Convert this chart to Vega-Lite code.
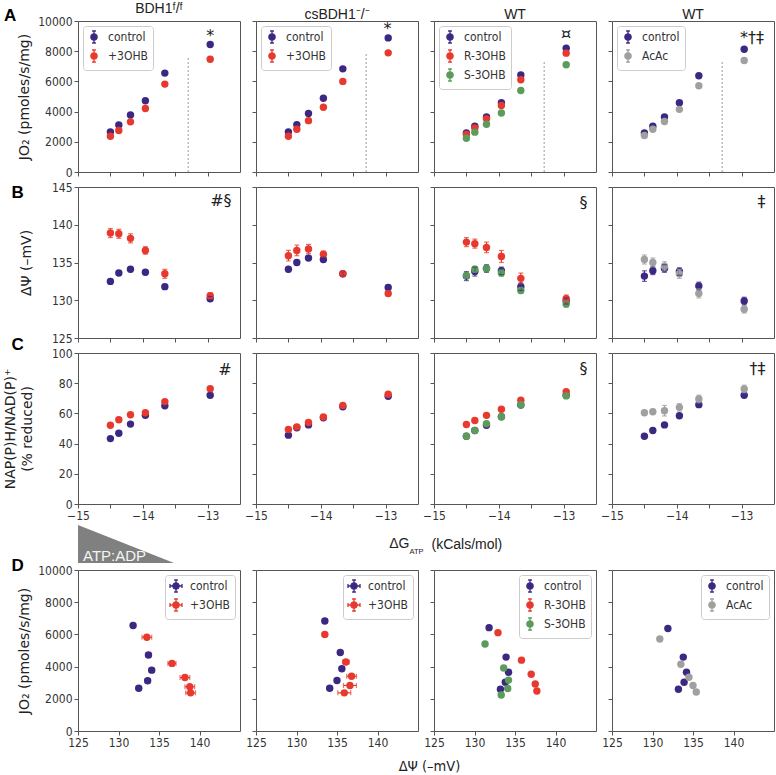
{
"$schema":"https://vega.github.io/schema/vega-lite/v6.json",
"background":"white",
"padding":{"left":2,"top":1,"right":0,"bottom":0},
"datasets":{
"pts":[
{"p":"A1","s":"control","x":-14.5,"y":2660},{"p":"A1","s":"control","x":-14.37,"y":3120},{"p":"A1","s":"control","x":-14.19,"y":3780},{"p":"A1","s":"control","x":-13.96,"y":4720},{"p":"A1","s":"control","x":-13.66,"y":6550},{"p":"A1","s":"control","x":-12.96,"y":8440},
{"p":"A1","s":"+3OHB","x":-14.5,"y":2370},{"p":"A1","s":"+3OHB","x":-14.37,"y":2750},{"p":"A1","s":"+3OHB","x":-14.19,"y":3320},{"p":"A1","s":"+3OHB","x":-13.96,"y":4200},{"p":"A1","s":"+3OHB","x":-13.66,"y":5820},{"p":"A1","s":"+3OHB","x":-12.96,"y":7470},
{"p":"A2","s":"control","x":-14.5,"y":2660},{"p":"A2","s":"control","x":-14.37,"y":3140},{"p":"A2","s":"control","x":-14.19,"y":3870},{"p":"A2","s":"control","x":-13.96,"y":4880},{"p":"A2","s":"control","x":-13.66,"y":6830},{"p":"A2","s":"control","x":-12.96,"y":8880},
{"p":"A2","s":"+3OHB","x":-14.5,"y":2370},{"p":"A2","s":"+3OHB","x":-14.37,"y":2830},{"p":"A2","s":"+3OHB","x":-14.19,"y":3400},{"p":"A2","s":"+3OHB","x":-13.96,"y":4290},{"p":"A2","s":"+3OHB","x":-13.66,"y":6000},{"p":"A2","s":"+3OHB","x":-12.96,"y":7890},
{"p":"A3","s":"control","x":-14.5,"y":2590},{"p":"A3","s":"control","x":-14.37,"y":3030},{"p":"A3","s":"control","x":-14.19,"y":3650},{"p":"A3","s":"control","x":-13.96,"y":4590},{"p":"A3","s":"control","x":-13.66,"y":6420},{"p":"A3","s":"control","x":-12.96,"y":8200},
{"p":"A3","s":"R-3OHB","x":-14.5,"y":2480},{"p":"A3","s":"R-3OHB","x":-14.37,"y":2920},{"p":"A3","s":"R-3OHB","x":-14.19,"y":3520},{"p":"A3","s":"R-3OHB","x":-13.96,"y":4400},{"p":"A3","s":"R-3OHB","x":-13.66,"y":6110},{"p":"A3","s":"R-3OHB","x":-12.96,"y":7870},
{"p":"A3","s":"S-3OHB","x":-14.5,"y":2240},{"p":"A3","s":"S-3OHB","x":-14.37,"y":2640},{"p":"A3","s":"S-3OHB","x":-14.19,"y":3160},{"p":"A3","s":"S-3OHB","x":-13.96,"y":3910},{"p":"A3","s":"S-3OHB","x":-13.66,"y":5400},{"p":"A3","s":"S-3OHB","x":-12.96,"y":7100},
{"p":"A4","s":"control","x":-14.5,"y":2590},{"p":"A4","s":"control","x":-14.37,"y":3030},{"p":"A4","s":"control","x":-14.19,"y":3650},{"p":"A4","s":"control","x":-13.96,"y":4590},{"p":"A4","s":"control","x":-13.66,"y":6370},{"p":"A4","s":"control","x":-12.96,"y":8130},
{"p":"A4","s":"AcAc","x":-14.5,"y":2420},{"p":"A4","s":"AcAc","x":-14.37,"y":2830},{"p":"A4","s":"AcAc","x":-14.19,"y":3340},{"p":"A4","s":"AcAc","x":-13.96,"y":4150},{"p":"A4","s":"AcAc","x":-13.66,"y":5710},{"p":"A4","s":"AcAc","x":-12.96,"y":7380},
{"p":"B1","s":"control","x":-14.5,"y":132.5},{"p":"B1","s":"control","x":-14.37,"y":133.6},{"p":"B1","s":"control","x":-14.19,"y":134.1},{"p":"B1","s":"control","x":-13.96,"y":133.7},{"p":"B1","s":"control","x":-13.66,"y":131.8},{"p":"B1","s":"control","x":-12.96,"y":130.2},
{"p":"B1","s":"+3OHB","x":-14.5,"y":138.9},{"p":"B1","s":"+3OHB","x":-14.37,"y":138.8},{"p":"B1","s":"+3OHB","x":-14.19,"y":138.2},{"p":"B1","s":"+3OHB","x":-13.96,"y":136.6},{"p":"B1","s":"+3OHB","x":-13.66,"y":133.5},{"p":"B1","s":"+3OHB","x":-12.96,"y":130.6},
{"p":"B2","s":"control","x":-14.5,"y":134.1},{"p":"B2","s":"control","x":-14.37,"y":135.0},{"p":"B2","s":"control","x":-14.19,"y":135.6},{"p":"B2","s":"control","x":-13.96,"y":135.4},{"p":"B2","s":"control","x":-13.66,"y":133.5},{"p":"B2","s":"control","x":-12.96,"y":131.7},
{"p":"B2","s":"+3OHB","x":-14.5,"y":135.9},{"p":"B2","s":"+3OHB","x":-14.37,"y":136.6},{"p":"B2","s":"+3OHB","x":-14.19,"y":136.8},{"p":"B2","s":"+3OHB","x":-13.96,"y":136.1},{"p":"B2","s":"+3OHB","x":-13.66,"y":133.5},{"p":"B2","s":"+3OHB","x":-12.96,"y":130.9},
{"p":"B3","s":"control","x":-14.5,"y":133.2},{"p":"B3","s":"control","x":-14.37,"y":133.8},{"p":"B3","s":"control","x":-14.19,"y":134.2},{"p":"B3","s":"control","x":-13.96,"y":133.9},{"p":"B3","s":"control","x":-13.66,"y":131.8},{"p":"B3","s":"control","x":-12.96,"y":129.9},
{"p":"B3","s":"R-3OHB","x":-14.5,"y":137.7},{"p":"B3","s":"R-3OHB","x":-14.37,"y":137.5},{"p":"B3","s":"R-3OHB","x":-14.19,"y":137.0},{"p":"B3","s":"R-3OHB","x":-13.96,"y":135.8},{"p":"B3","s":"R-3OHB","x":-13.66,"y":132.9},{"p":"B3","s":"R-3OHB","x":-12.96,"y":130.2},
{"p":"B3","s":"S-3OHB","x":-14.5,"y":133.3},{"p":"B3","s":"S-3OHB","x":-14.37,"y":134.1},{"p":"B3","s":"S-3OHB","x":-14.19,"y":134.2},{"p":"B3","s":"S-3OHB","x":-13.96,"y":133.6},{"p":"B3","s":"S-3OHB","x":-13.66,"y":131.3},{"p":"B3","s":"S-3OHB","x":-12.96,"y":129.5},
{"p":"B4","s":"control","x":-14.5,"y":133.2},{"p":"B4","s":"control","x":-14.37,"y":133.9},{"p":"B4","s":"control","x":-14.19,"y":134.2},{"p":"B4","s":"control","x":-13.96,"y":133.8},{"p":"B4","s":"control","x":-13.66,"y":131.9},{"p":"B4","s":"control","x":-12.96,"y":129.9},
{"p":"B4","s":"AcAc","x":-14.5,"y":135.4},{"p":"B4","s":"AcAc","x":-14.37,"y":135.0},{"p":"B4","s":"AcAc","x":-14.19,"y":134.5},{"p":"B4","s":"AcAc","x":-13.96,"y":133.5},{"p":"B4","s":"AcAc","x":-13.66,"y":130.9},{"p":"B4","s":"AcAc","x":-12.96,"y":128.8},
{"p":"C1","s":"control","x":-14.5,"y":43.3},{"p":"C1","s":"control","x":-14.37,"y":46.9},{"p":"C1","s":"control","x":-14.19,"y":52.9},{"p":"C1","s":"control","x":-13.96,"y":58.7},{"p":"C1","s":"control","x":-13.66,"y":65.1},{"p":"C1","s":"control","x":-12.96,"y":72.0},
{"p":"C1","s":"+3OHB","x":-14.5,"y":52.2},{"p":"C1","s":"+3OHB","x":-14.37,"y":55.8},{"p":"C1","s":"+3OHB","x":-14.19,"y":59.1},{"p":"C1","s":"+3OHB","x":-13.96,"y":60.4},{"p":"C1","s":"+3OHB","x":-13.66,"y":67.8},{"p":"C1","s":"+3OHB","x":-12.96,"y":76.4},
{"p":"C2","s":"control","x":-14.5,"y":45.6},{"p":"C2","s":"control","x":-14.37,"y":50.5},{"p":"C2","s":"control","x":-14.19,"y":52.4},{"p":"C2","s":"control","x":-13.96,"y":57.1},{"p":"C2","s":"control","x":-13.66,"y":64.4},{"p":"C2","s":"control","x":-12.96,"y":71.3},
{"p":"C2","s":"+3OHB","x":-14.5,"y":49.3},{"p":"C2","s":"+3OHB","x":-14.37,"y":51.1},{"p":"C2","s":"+3OHB","x":-14.19,"y":54.0},{"p":"C2","s":"+3OHB","x":-13.96,"y":57.6},{"p":"C2","s":"+3OHB","x":-13.66,"y":65.3},{"p":"C2","s":"+3OHB","x":-12.96,"y":72.7},
{"p":"C3","s":"control","x":-14.5,"y":44.9},{"p":"C3","s":"control","x":-14.37,"y":48.7},{"p":"C3","s":"control","x":-14.19,"y":52.2},{"p":"C3","s":"control","x":-13.96,"y":57.8},{"p":"C3","s":"control","x":-13.66,"y":65.6},{"p":"C3","s":"control","x":-12.96,"y":72.0},
{"p":"C3","s":"R-3OHB","x":-14.5,"y":52.7},{"p":"C3","s":"R-3OHB","x":-14.37,"y":55.3},{"p":"C3","s":"R-3OHB","x":-14.19,"y":58.7},{"p":"C3","s":"R-3OHB","x":-13.96,"y":62.7},{"p":"C3","s":"R-3OHB","x":-13.66,"y":68.7},{"p":"C3","s":"R-3OHB","x":-12.96,"y":74.4},
{"p":"C3","s":"S-3OHB","x":-14.5,"y":44.9},{"p":"C3","s":"S-3OHB","x":-14.37,"y":48.7},{"p":"C3","s":"S-3OHB","x":-14.19,"y":53.1},{"p":"C3","s":"S-3OHB","x":-13.96,"y":57.8},{"p":"C3","s":"S-3OHB","x":-13.66,"y":65.8},{"p":"C3","s":"S-3OHB","x":-12.96,"y":71.6},
{"p":"C4","s":"control","x":-14.5,"y":44.9},{"p":"C4","s":"control","x":-14.37,"y":48.7},{"p":"C4","s":"control","x":-14.19,"y":52.4},{"p":"C4","s":"control","x":-13.96,"y":58.4},{"p":"C4","s":"control","x":-13.66,"y":65.8},{"p":"C4","s":"control","x":-12.96,"y":72.0},
{"p":"C4","s":"AcAc","x":-14.5,"y":60.4},{"p":"C4","s":"AcAc","x":-14.37,"y":61.1},{"p":"C4","s":"AcAc","x":-14.19,"y":61.8},{"p":"C4","s":"AcAc","x":-13.96,"y":64.0},{"p":"C4","s":"AcAc","x":-13.66,"y":69.6},{"p":"C4","s":"AcAc","x":-12.96,"y":76.2},
{"p":"D1","s":"control","x":132.5,"y":2660},{"p":"D1","s":"control","x":133.6,"y":3120},{"p":"D1","s":"control","x":134.1,"y":3780},{"p":"D1","s":"control","x":133.7,"y":4720},{"p":"D1","s":"control","x":131.8,"y":6550},
{"p":"D1","s":"+3OHB","x":138.9,"y":2370},{"p":"D1","s":"+3OHB","x":138.8,"y":2750},{"p":"D1","s":"+3OHB","x":138.2,"y":3320},{"p":"D1","s":"+3OHB","x":136.6,"y":4200},{"p":"D1","s":"+3OHB","x":133.5,"y":5820},
{"p":"D2","s":"control","x":134.1,"y":2660},{"p":"D2","s":"control","x":135.0,"y":3140},{"p":"D2","s":"control","x":135.6,"y":3870},{"p":"D2","s":"control","x":135.4,"y":4880},{"p":"D2","s":"control","x":133.5,"y":6830},
{"p":"D2","s":"+3OHB","x":135.9,"y":2370},{"p":"D2","s":"+3OHB","x":136.6,"y":2830},{"p":"D2","s":"+3OHB","x":136.8,"y":3400},{"p":"D2","s":"+3OHB","x":136.1,"y":4290},{"p":"D2","s":"+3OHB","x":133.5,"y":6000},
{"p":"D3","s":"control","x":133.2,"y":2590},{"p":"D3","s":"control","x":133.8,"y":3030},{"p":"D3","s":"control","x":134.2,"y":3650},{"p":"D3","s":"control","x":133.9,"y":4590},{"p":"D3","s":"control","x":131.8,"y":6420},
{"p":"D3","s":"R-3OHB","x":137.7,"y":2480},{"p":"D3","s":"R-3OHB","x":137.5,"y":2920},{"p":"D3","s":"R-3OHB","x":137.0,"y":3520},{"p":"D3","s":"R-3OHB","x":135.8,"y":4400},{"p":"D3","s":"R-3OHB","x":132.9,"y":6110},
{"p":"D3","s":"S-3OHB","x":133.3,"y":2240},{"p":"D3","s":"S-3OHB","x":134.1,"y":2640},{"p":"D3","s":"S-3OHB","x":134.2,"y":3160},{"p":"D3","s":"S-3OHB","x":133.6,"y":3910},{"p":"D3","s":"S-3OHB","x":131.3,"y":5400},
{"p":"D4","s":"control","x":133.2,"y":2590},{"p":"D4","s":"control","x":133.9,"y":3030},{"p":"D4","s":"control","x":134.2,"y":3650},{"p":"D4","s":"control","x":133.8,"y":4590},{"p":"D4","s":"control","x":131.9,"y":6370},
{"p":"D4","s":"AcAc","x":135.4,"y":2420},{"p":"D4","s":"AcAc","x":135.0,"y":2830},{"p":"D4","s":"AcAc","x":134.5,"y":3340},{"p":"D4","s":"AcAc","x":133.5,"y":4150},{"p":"D4","s":"AcAc","x":130.9,"y":5710}
],
"eb":[
{"p":"A1","s":"+3OHB","x":-13.96,"lo":4100,"hi":4300},{"p":"A1","s":"+3OHB","x":-13.66,"lo":5730,"hi":5910},{"p":"A1","s":"+3OHB","x":-12.96,"lo":7270,"hi":7670},
{"p":"B1","s":"control","x":-14.5,"lo":132.2,"hi":132.8},{"p":"B1","s":"control","x":-14.37,"lo":133.3,"hi":133.9},{"p":"B1","s":"control","x":-14.19,"lo":133.8,"hi":134.4},{"p":"B1","s":"control","x":-13.96,"lo":133.4,"hi":134.0},{"p":"B1","s":"control","x":-13.66,"lo":131.5,"hi":132.1},{"p":"B1","s":"control","x":-12.96,"lo":129.9,"hi":130.5},
{"p":"B1","s":"+3OHB","x":-14.5,"lo":138.3,"hi":139.5},{"p":"B1","s":"+3OHB","x":-14.37,"lo":138.2,"hi":139.4},{"p":"B1","s":"+3OHB","x":-14.19,"lo":137.6,"hi":138.8},{"p":"B1","s":"+3OHB","x":-13.96,"lo":136.1,"hi":137.1},{"p":"B1","s":"+3OHB","x":-13.66,"lo":132.9,"hi":134.1},{"p":"B1","s":"+3OHB","x":-12.96,"lo":130.2,"hi":131.0},
{"p":"B2","s":"control","x":-14.5,"lo":133.8,"hi":134.4},{"p":"B2","s":"control","x":-14.37,"lo":134.7,"hi":135.3},{"p":"B2","s":"control","x":-14.19,"lo":135.3,"hi":135.9},{"p":"B2","s":"control","x":-13.96,"lo":135.1,"hi":135.7},{"p":"B2","s":"control","x":-13.66,"lo":133.2,"hi":133.8},{"p":"B2","s":"control","x":-12.96,"lo":131.4,"hi":132.0},
{"p":"B2","s":"+3OHB","x":-14.5,"lo":135.2,"hi":136.6},{"p":"B2","s":"+3OHB","x":-14.37,"lo":135.9,"hi":137.3},{"p":"B2","s":"+3OHB","x":-14.19,"lo":136.2,"hi":137.4},{"p":"B2","s":"+3OHB","x":-13.96,"lo":135.7,"hi":136.5},{"p":"B2","s":"+3OHB","x":-13.66,"lo":133.2,"hi":133.8},{"p":"B2","s":"+3OHB","x":-12.96,"lo":130.6,"hi":131.2},
{"p":"B3","s":"control","x":-14.5,"lo":132.6,"hi":133.8},{"p":"B3","s":"control","x":-14.37,"lo":133.2,"hi":134.4},{"p":"B3","s":"control","x":-14.19,"lo":133.7,"hi":134.7},{"p":"B3","s":"control","x":-13.96,"lo":133.4,"hi":134.4},{"p":"B3","s":"control","x":-13.66,"lo":131.3,"hi":132.3},{"p":"B3","s":"control","x":-12.96,"lo":129.5,"hi":130.3},
{"p":"B3","s":"R-3OHB","x":-14.5,"lo":137.1,"hi":138.3},{"p":"B3","s":"R-3OHB","x":-14.37,"lo":136.9,"hi":138.1},{"p":"B3","s":"R-3OHB","x":-14.19,"lo":136.3,"hi":137.7},{"p":"B3","s":"R-3OHB","x":-13.96,"lo":135.0,"hi":136.6},{"p":"B3","s":"R-3OHB","x":-13.66,"lo":132.2,"hi":133.6},{"p":"B3","s":"R-3OHB","x":-12.96,"lo":129.7,"hi":130.7},
{"p":"B3","s":"S-3OHB","x":-14.5,"lo":132.9,"hi":133.7},{"p":"B3","s":"S-3OHB","x":-14.37,"lo":133.7,"hi":134.5},{"p":"B3","s":"S-3OHB","x":-14.19,"lo":133.8,"hi":134.6},{"p":"B3","s":"S-3OHB","x":-13.96,"lo":133.2,"hi":134.0},{"p":"B3","s":"S-3OHB","x":-13.66,"lo":130.9,"hi":131.7},{"p":"B3","s":"S-3OHB","x":-12.96,"lo":129.1,"hi":129.9},
{"p":"B4","s":"control","x":-14.5,"lo":132.5,"hi":133.9},{"p":"B4","s":"control","x":-14.37,"lo":133.4,"hi":134.4},{"p":"B4","s":"control","x":-14.19,"lo":133.7,"hi":134.7},{"p":"B4","s":"control","x":-13.96,"lo":133.3,"hi":134.3},{"p":"B4","s":"control","x":-13.66,"lo":131.4,"hi":132.4},{"p":"B4","s":"control","x":-12.96,"lo":129.4,"hi":130.4},
{"p":"B4","s":"AcAc","x":-14.5,"lo":134.8,"hi":136.0},{"p":"B4","s":"AcAc","x":-14.37,"lo":134.4,"hi":135.6},{"p":"B4","s":"AcAc","x":-14.19,"lo":133.9,"hi":135.1},{"p":"B4","s":"AcAc","x":-13.96,"lo":132.9,"hi":134.1},{"p":"B4","s":"AcAc","x":-13.66,"lo":130.3,"hi":131.5},{"p":"B4","s":"AcAc","x":-12.96,"lo":128.3,"hi":129.3},
{"p":"C1","s":"+3OHB","x":-14.5,"lo":51.2,"hi":53.2},{"p":"C1","s":"+3OHB","x":-14.37,"lo":54.8,"hi":56.8},{"p":"C1","s":"+3OHB","x":-14.19,"lo":58.1,"hi":60.1},{"p":"C1","s":"+3OHB","x":-13.96,"lo":58.9,"hi":61.9},{"p":"C1","s":"+3OHB","x":-13.66,"lo":66.3,"hi":69.3},{"p":"C1","s":"+3OHB","x":-12.96,"lo":75.4,"hi":77.4},
{"p":"C4","s":"AcAc","x":-14.5,"lo":58.9,"hi":61.9},{"p":"C4","s":"AcAc","x":-14.37,"lo":59.6,"hi":62.6},{"p":"C4","s":"AcAc","x":-14.19,"lo":58.3,"hi":65.3},{"p":"C4","s":"AcAc","x":-13.96,"lo":61.5,"hi":66.5},{"p":"C4","s":"AcAc","x":-13.66,"lo":67.1,"hi":72.1},{"p":"C4","s":"AcAc","x":-12.96,"lo":73.7,"hi":78.7}
],
"ebh":[
{"p":"D1","s":"control","y":2660,"lo":132.2,"hi":132.8},{"p":"D1","s":"control","y":3120,"lo":133.3,"hi":133.9},{"p":"D1","s":"control","y":3780,"lo":133.8,"hi":134.4},{"p":"D1","s":"control","y":4720,"lo":133.4,"hi":134.0},{"p":"D1","s":"control","y":6550,"lo":131.5,"hi":132.1},
{"p":"D1","s":"+3OHB","y":2370,"lo":138.3,"hi":139.5},{"p":"D1","s":"+3OHB","y":2750,"lo":138.2,"hi":139.4},{"p":"D1","s":"+3OHB","y":3320,"lo":137.6,"hi":138.8},{"p":"D1","s":"+3OHB","y":4200,"lo":136.1,"hi":137.1},{"p":"D1","s":"+3OHB","y":5820,"lo":132.9,"hi":134.1},
{"p":"D2","s":"control","y":2660,"lo":133.8,"hi":134.4},{"p":"D2","s":"control","y":3140,"lo":134.7,"hi":135.3},{"p":"D2","s":"control","y":3870,"lo":135.3,"hi":135.9},{"p":"D2","s":"control","y":4880,"lo":135.1,"hi":135.7},{"p":"D2","s":"control","y":6830,"lo":133.2,"hi":133.8},
{"p":"D2","s":"+3OHB","y":2370,"lo":135.1,"hi":136.7},{"p":"D2","s":"+3OHB","y":2830,"lo":135.8,"hi":137.4},{"p":"D2","s":"+3OHB","y":3400,"lo":136.2,"hi":137.4},{"p":"D2","s":"+3OHB","y":4290,"lo":135.7,"hi":136.5},{"p":"D2","s":"+3OHB","y":6000,"lo":133.2,"hi":133.8}
],
"vl":[{"p":"A1","x":-13.3,"b":0,"top":7600},{"p":"A2","x":-13.3,"b":0,"top":7900},{"p":"A3","x":-13.3,"b":0,"top":7320},{"p":"A4","x":-13.3,"b":0,"top":7320}],
"sig":[{"p":"A1","x":-12.96,"y":8680,"t":"*"},{"p":"A2","x":-12.97,"y":9140,"t":"*"},{"p":"A3","x":-12.96,"y":8790,"t":"¤"},{"p":"A4","x":-12.84,"y":8550,"t":"*†‡"},
{"p":"B1","x":-12.63,"y":142.5,"t":"#§"},{"p":"B3","x":-12.63,"y":142.2,"t":"§"},{"p":"B4","x":-12.63,"y":142.35,"t":"‡"},
{"p":"C1","x":-12.63,"y":85.4,"t":"#"},{"p":"C3","x":-12.63,"y":86,"t":"§"},{"p":"C4","x":-12.63,"y":86,"t":"†‡"}],
"tri":[{"u":0,"v":0.833,"v0":-0.222},{"u":1,"v":-0.222,"v0":-0.222}],
"trilab":[{"u":0.052,"v":-0.167,"t":"ATP:ADP"}]
},
"config":{
"font":"DejaVu Sans",
"view":{"stroke":"#555","strokeWidth":1},
"axis":{"grid":false,"domain":false,"ticks":true,"tickColor":"#555","tickSize":4,"tickWidth":1,"labelFont":"DejaVu Sans Condensed","labelFontSize":12,"labelColor":"#333","labelPadding":2,"labelFlush":false,"labelOverlap":false,"titleFont":"DejaVu Sans","titleFontSize":14,"titleFontWeight":"normal","titleColor":"#222"},
"legend":{"fillColor":"white","strokeColor":"#ccc","cornerRadius":3,"padding":5,"labelFont":"DejaVu Sans Condensed","labelFontSize":12,"labelColor":"#333","symbolSize":40,"symbolStrokeWidth":1.3,"rowPadding":1,"labelOffset":8,"offset":5},
"title":{"font":"Liberation Sans","fontSize":14,"fontWeight":"normal","color":"#222","baseline":"alphabetic","offset":-1}
},
"resolve":{"scale":{"fill":"independent","stroke":"independent","color":"independent"},"legend":{"fill":"independent","stroke":"independent","color":"independent"}},
"bounds":"flush","columns":4,"spacing":{"row":15,"column":16},
"concat":[
{"width":162,"height":151,"title":{"text":"BDH1ᶠ/ᶠ"},"layer":[
{"data":{"name":"vl"},"transform":[{"filter":"datum.p==='A1'"}],"mark":{"type":"rule","strokeDash":[2,2],"color":"#9a9a9a","strokeWidth":1},"encoding":{"x":{"field":"x","type":"quantitative"},"y":{"field":"b","type":"quantitative"},"y2":{"field":"top"}}},
{"data":{"name":"pts"},"transform":[{"filter":"datum.p==='A1'"}],"mark":{"type":"circle","size":55,"opacity":1,"strokeWidth":0},"encoding":{
"x":{"field":"x","type":"quantitative","scale":{"domain":[-15,-12.5],"nice":false,"zero":false},"axis":{"values":[-15,-14.5,-14,-13.5,-13],"tickCount":20,"labels":false,"title":null}},
"y":{"field":"y","type":"quantitative","scale":{"domain":[0,10000],"nice":false},"axis":{"values":[0,2000,4000,6000,8000,10000],"tickCount":20,"format":"d","title":"JO₂ (pmoles/s/mg)","titleX":-54,"titleY":75.5,"titleAlign":"center","titleBaseline":"middle","titleAngle":-90}},
"fill":{"field":"s","type":"nominal","scale":{"domain":["control","+3OHB"],"range":["#3c2882","#e8392e"]},"legend":{"title":null,"orient":"top-left","symbolType":"M-1,0A1,1,0,1,0,1,0A1,1,0,1,0,-1,0ZM0,-1.9L0,1.9M-0.6,-1.9L0.6,-1.9M-0.6,1.9L0.6,1.9"}},
"stroke":{"field":"s","type":"nominal","scale":{"domain":["control","+3OHB"],"range":["#3c2882","#e8392e"]},"legend":{"title":null,"orient":"top-left","symbolType":"M-1,0A1,1,0,1,0,1,0A1,1,0,1,0,-1,0ZM0,-1.9L0,1.9M-0.6,-1.9L0.6,-1.9M-0.6,1.9L0.6,1.9"}}}},
{"data":{"name":"eb"},"transform":[{"filter":"datum.p==='A1'"}],"mark":{"type":"rule","strokeWidth":1.2},"encoding":{"x":{"field":"x","type":"quantitative"},"y":{"field":"lo","type":"quantitative"},"y2":{"field":"hi"},"color":{"field":"s","type":"nominal","scale":{"domain":["control","+3OHB"],"range":["#3c2882","#e8392e"]},"legend":null}}},
{"data":{"name":"sig"},"transform":[{"filter":"datum.p==='A1'"}],"mark":{"type":"text","font":"DejaVu Sans","fontSize":16,"align":"center","baseline":"alphabetic","color":"#222"},"encoding":{"x":{"field":"x","type":"quantitative"},"y":{"field":"y","type":"quantitative"},"text":{"field":"t"}}}
]},
{"width":162,"height":151,"title":{"text":"csBDH1⁻/⁻"},"layer":[
{"data":{"name":"vl"},"transform":[{"filter":"datum.p==='A2'"}],"mark":{"type":"rule","strokeDash":[2,2],"color":"#9a9a9a","strokeWidth":1},"encoding":{"x":{"field":"x","type":"quantitative"},"y":{"field":"b","type":"quantitative"},"y2":{"field":"top"}}},
{"data":{"name":"pts"},"transform":[{"filter":"datum.p==='A2'"}],"mark":{"type":"circle","size":55,"opacity":1,"strokeWidth":0},"encoding":{
"x":{"field":"x","type":"quantitative","scale":{"domain":[-15,-12.5],"nice":false,"zero":false},"axis":{"values":[-15,-14.5,-14,-13.5,-13],"tickCount":20,"labels":false,"title":null}},
"y":{"field":"y","type":"quantitative","scale":{"domain":[0,10000],"nice":false},"axis":{"values":[0,2000,4000,6000,8000,10000],"tickCount":20,"labels":false,"title":null}},
"fill":{"field":"s","type":"nominal","scale":{"domain":["control","+3OHB"],"range":["#3c2882","#e8392e"]},"legend":{"title":null,"orient":"top-left","symbolType":"M-1,0A1,1,0,1,0,1,0A1,1,0,1,0,-1,0ZM0,-1.9L0,1.9M-0.6,-1.9L0.6,-1.9M-0.6,1.9L0.6,1.9"}},
"stroke":{"field":"s","type":"nominal","scale":{"domain":["control","+3OHB"],"range":["#3c2882","#e8392e"]},"legend":{"title":null,"orient":"top-left","symbolType":"M-1,0A1,1,0,1,0,1,0A1,1,0,1,0,-1,0ZM0,-1.9L0,1.9M-0.6,-1.9L0.6,-1.9M-0.6,1.9L0.6,1.9"}}}},
{"data":{"name":"sig"},"transform":[{"filter":"datum.p==='A2'"}],"mark":{"type":"text","font":"DejaVu Sans","fontSize":16,"align":"center","baseline":"alphabetic","color":"#222"},"encoding":{"x":{"field":"x","type":"quantitative"},"y":{"field":"y","type":"quantitative"},"text":{"field":"t"}}}
]},
{"width":162,"height":151,"title":{"text":"WT"},"layer":[
{"data":{"name":"vl"},"transform":[{"filter":"datum.p==='A3'"}],"mark":{"type":"rule","strokeDash":[2,2],"color":"#9a9a9a","strokeWidth":1},"encoding":{"x":{"field":"x","type":"quantitative"},"y":{"field":"b","type":"quantitative"},"y2":{"field":"top"}}},
{"data":{"name":"pts"},"transform":[{"filter":"datum.p==='A3'"}],"mark":{"type":"circle","size":55,"opacity":1,"strokeWidth":0},"encoding":{
"x":{"field":"x","type":"quantitative","scale":{"domain":[-15,-12.5],"nice":false,"zero":false},"axis":{"values":[-15,-14.5,-14,-13.5,-13],"tickCount":20,"labels":false,"title":null}},
"y":{"field":"y","type":"quantitative","scale":{"domain":[0,10000],"nice":false},"axis":{"values":[0,2000,4000,6000,8000,10000],"tickCount":20,"labels":false,"title":null}},
"fill":{"field":"s","type":"nominal","scale":{"domain":["control","R-3OHB","S-3OHB"],"range":["#3c2882","#e8392e","#5b9b5b"]},"legend":{"title":null,"orient":"top-left","symbolType":"M-1,0A1,1,0,1,0,1,0A1,1,0,1,0,-1,0ZM0,-1.9L0,1.9M-0.6,-1.9L0.6,-1.9M-0.6,1.9L0.6,1.9"}},
"stroke":{"field":"s","type":"nominal","scale":{"domain":["control","R-3OHB","S-3OHB"],"range":["#3c2882","#e8392e","#5b9b5b"]},"legend":{"title":null,"orient":"top-left","symbolType":"M-1,0A1,1,0,1,0,1,0A1,1,0,1,0,-1,0ZM0,-1.9L0,1.9M-0.6,-1.9L0.6,-1.9M-0.6,1.9L0.6,1.9"}}}},
{"data":{"name":"sig"},"transform":[{"filter":"datum.p==='A3'"}],"mark":{"type":"text","font":"DejaVu Sans","fontSize":16,"align":"center","baseline":"alphabetic","color":"#222"},"encoding":{"x":{"field":"x","type":"quantitative"},"y":{"field":"y","type":"quantitative"},"text":{"field":"t"}}}
]},
{"width":162,"height":151,"title":{"text":"WT"},"layer":[
{"data":{"name":"vl"},"transform":[{"filter":"datum.p==='A4'"}],"mark":{"type":"rule","strokeDash":[2,2],"color":"#9a9a9a","strokeWidth":1},"encoding":{"x":{"field":"x","type":"quantitative"},"y":{"field":"b","type":"quantitative"},"y2":{"field":"top"}}},
{"data":{"name":"pts"},"transform":[{"filter":"datum.p==='A4'"}],"mark":{"type":"circle","size":55,"opacity":1,"strokeWidth":0},"encoding":{
"x":{"field":"x","type":"quantitative","scale":{"domain":[-15,-12.5],"nice":false,"zero":false},"axis":{"values":[-15,-14.5,-14,-13.5,-13],"tickCount":20,"labels":false,"title":null}},
"y":{"field":"y","type":"quantitative","scale":{"domain":[0,10000],"nice":false},"axis":{"values":[0,2000,4000,6000,8000,10000],"tickCount":20,"labels":false,"title":null}},
"fill":{"field":"s","type":"nominal","scale":{"domain":["control","AcAc"],"range":["#3c2882","#a0a0a0"]},"legend":{"title":null,"orient":"top-left","symbolType":"M-1,0A1,1,0,1,0,1,0A1,1,0,1,0,-1,0ZM0,-1.9L0,1.9M-0.6,-1.9L0.6,-1.9M-0.6,1.9L0.6,1.9"}},
"stroke":{"field":"s","type":"nominal","scale":{"domain":["control","AcAc"],"range":["#3c2882","#a0a0a0"]},"legend":{"title":null,"orient":"top-left","symbolType":"M-1,0A1,1,0,1,0,1,0A1,1,0,1,0,-1,0ZM0,-1.9L0,1.9M-0.6,-1.9L0.6,-1.9M-0.6,1.9L0.6,1.9"}}}},
{"data":{"name":"sig"},"transform":[{"filter":"datum.p==='A4'"}],"mark":{"type":"text","font":"DejaVu Sans","fontSize":16,"align":"center","baseline":"alphabetic","color":"#222"},"encoding":{"x":{"field":"x","type":"quantitative"},"y":{"field":"y","type":"quantitative"},"text":{"field":"t"}}}
]},
{"width":162,"height":151,"title":{"text":"A","anchor":"start","frame":"group","dx":-74,"dy":-156,"offset":0,"font":"Liberation Sans","fontWeight":"bold","fontSize":17,"color":"#000"},"layer":[
{"data":{"name":"pts"},"transform":[{"filter":"datum.p==='B1'"}],"mark":{"type":"circle","size":55,"opacity":1,"strokeWidth":0},"encoding":{
"x":{"field":"x","type":"quantitative","scale":{"domain":[-15,-12.5],"nice":false,"zero":false},"axis":{"values":[-15,-14.5,-14,-13.5,-13],"tickCount":20,"labels":false,"title":"B","titleX":-67,"titleY":-141,"titleFont":"Liberation Sans","titleFontWeight":"bold","titleFontSize":17,"titleColor":"#000","titleAngle":0,"titleAlign":"left","titleBaseline":"alphabetic"}},
"y":{"field":"y","type":"quantitative","scale":{"domain":[125,145],"nice":false,"zero":false},"axis":{"values":[125,130,135,140,145],"tickCount":20,"title":"ΔΨ (–mV)","titleX":-52,"titleY":75.5,"titleAlign":"center","titleBaseline":"middle","titleAngle":-90}},
"fill":{"field":"s","type":"nominal","scale":{"domain":["control","+3OHB"],"range":["#3c2882","#e8392e"]},"legend":null}}},
{"data":{"name":"eb"},"transform":[{"filter":"datum.p==='B1'"}],"mark":{"type":"rule","strokeWidth":1.2},"encoding":{"x":{"field":"x","type":"quantitative"},"y":{"field":"lo","type":"quantitative"},"y2":{"field":"hi"},"color":{"field":"s","type":"nominal","scale":{"domain":["control","+3OHB"],"range":["#3c2882","#e8392e"]},"legend":null}}},
{"data":{"name":"eb"},"transform":[{"filter":"datum.p==='B1'"}],"mark":{"type":"tick","orient":"horizontal","size":5,"thickness":1.2},"encoding":{"x":{"field":"x","type":"quantitative"},"y":{"field":"lo","type":"quantitative"},"color":{"field":"s","type":"nominal","scale":{"domain":["control","+3OHB"],"range":["#3c2882","#e8392e"]},"legend":null}}},
{"data":{"name":"eb"},"transform":[{"filter":"datum.p==='B1'"}],"mark":{"type":"tick","orient":"horizontal","size":5,"thickness":1.2},"encoding":{"x":{"field":"x","type":"quantitative"},"y":{"field":"hi","type":"quantitative"},"color":{"field":"s","type":"nominal","scale":{"domain":["control","+3OHB"],"range":["#3c2882","#e8392e"]},"legend":null}}},
{"data":{"name":"sig"},"transform":[{"filter":"datum.p==='B1'"}],"mark":{"type":"text","font":"DejaVu Sans","fontSize":16,"align":"right","baseline":"alphabetic","color":"#222"},"encoding":{"x":{"field":"x","type":"quantitative"},"y":{"field":"y","type":"quantitative"},"text":{"field":"t"}}}
]},
{"width":162,"height":151,"layer":[
{"data":{"name":"pts"},"transform":[{"filter":"datum.p==='B2'"}],"mark":{"type":"circle","size":55,"opacity":1,"strokeWidth":0},"encoding":{
"x":{"field":"x","type":"quantitative","scale":{"domain":[-15,-12.5],"nice":false,"zero":false},"axis":{"values":[-15,-14.5,-14,-13.5,-13],"tickCount":20,"labels":false,"title":null}},
"y":{"field":"y","type":"quantitative","scale":{"domain":[125,145],"nice":false,"zero":false},"axis":{"values":[125,130,135,140,145],"tickCount":20,"labels":false,"title":null}},
"fill":{"field":"s","type":"nominal","scale":{"domain":["control","+3OHB"],"range":["#3c2882","#e8392e"]},"legend":null}}},
{"data":{"name":"eb"},"transform":[{"filter":"datum.p==='B2'"}],"mark":{"type":"rule","strokeWidth":1.2},"encoding":{"x":{"field":"x","type":"quantitative"},"y":{"field":"lo","type":"quantitative"},"y2":{"field":"hi"},"color":{"field":"s","type":"nominal","scale":{"domain":["control","+3OHB"],"range":["#3c2882","#e8392e"]},"legend":null}}},
{"data":{"name":"eb"},"transform":[{"filter":"datum.p==='B2'"}],"mark":{"type":"tick","orient":"horizontal","size":5,"thickness":1.2},"encoding":{"x":{"field":"x","type":"quantitative"},"y":{"field":"lo","type":"quantitative"},"color":{"field":"s","type":"nominal","scale":{"domain":["control","+3OHB"],"range":["#3c2882","#e8392e"]},"legend":null}}},
{"data":{"name":"eb"},"transform":[{"filter":"datum.p==='B2'"}],"mark":{"type":"tick","orient":"horizontal","size":5,"thickness":1.2},"encoding":{"x":{"field":"x","type":"quantitative"},"y":{"field":"hi","type":"quantitative"},"color":{"field":"s","type":"nominal","scale":{"domain":["control","+3OHB"],"range":["#3c2882","#e8392e"]},"legend":null}}}
]},
{"width":162,"height":151,"layer":[
{"data":{"name":"pts"},"transform":[{"filter":"datum.p==='B3'"}],"mark":{"type":"circle","size":55,"opacity":1,"strokeWidth":0},"encoding":{
"x":{"field":"x","type":"quantitative","scale":{"domain":[-15,-12.5],"nice":false,"zero":false},"axis":{"values":[-15,-14.5,-14,-13.5,-13],"tickCount":20,"labels":false,"title":null}},
"y":{"field":"y","type":"quantitative","scale":{"domain":[125,145],"nice":false,"zero":false},"axis":{"values":[125,130,135,140,145],"tickCount":20,"labels":false,"title":null}},
"fill":{"field":"s","type":"nominal","scale":{"domain":["control","R-3OHB","S-3OHB"],"range":["#3c2882","#e8392e","#5b9b5b"]},"legend":null}}},
{"data":{"name":"eb"},"transform":[{"filter":"datum.p==='B3'"}],"mark":{"type":"rule","strokeWidth":1.2},"encoding":{"x":{"field":"x","type":"quantitative"},"y":{"field":"lo","type":"quantitative"},"y2":{"field":"hi"},"color":{"field":"s","type":"nominal","scale":{"domain":["control","R-3OHB","S-3OHB"],"range":["#3c2882","#e8392e","#5b9b5b"]},"legend":null}}},
{"data":{"name":"eb"},"transform":[{"filter":"datum.p==='B3'"}],"mark":{"type":"tick","orient":"horizontal","size":5,"thickness":1.2},"encoding":{"x":{"field":"x","type":"quantitative"},"y":{"field":"lo","type":"quantitative"},"color":{"field":"s","type":"nominal","scale":{"domain":["control","R-3OHB","S-3OHB"],"range":["#3c2882","#e8392e","#5b9b5b"]},"legend":null}}},
{"data":{"name":"eb"},"transform":[{"filter":"datum.p==='B3'"}],"mark":{"type":"tick","orient":"horizontal","size":5,"thickness":1.2},"encoding":{"x":{"field":"x","type":"quantitative"},"y":{"field":"hi","type":"quantitative"},"color":{"field":"s","type":"nominal","scale":{"domain":["control","R-3OHB","S-3OHB"],"range":["#3c2882","#e8392e","#5b9b5b"]},"legend":null}}},
{"data":{"name":"sig"},"transform":[{"filter":"datum.p==='B3'"}],"mark":{"type":"text","font":"DejaVu Sans","fontSize":16,"align":"right","baseline":"alphabetic","color":"#222"},"encoding":{"x":{"field":"x","type":"quantitative"},"y":{"field":"y","type":"quantitative"},"text":{"field":"t"}}}
]},
{"width":162,"height":151,"layer":[
{"data":{"name":"pts"},"transform":[{"filter":"datum.p==='B4'"}],"mark":{"type":"circle","size":55,"opacity":1,"strokeWidth":0},"encoding":{
"x":{"field":"x","type":"quantitative","scale":{"domain":[-15,-12.5],"nice":false,"zero":false},"axis":{"values":[-15,-14.5,-14,-13.5,-13],"tickCount":20,"labels":false,"title":null}},
"y":{"field":"y","type":"quantitative","scale":{"domain":[125,145],"nice":false,"zero":false},"axis":{"values":[125,130,135,140,145],"tickCount":20,"labels":false,"title":null}},
"fill":{"field":"s","type":"nominal","scale":{"domain":["control","AcAc"],"range":["#3c2882","#a0a0a0"]},"legend":null}}},
{"data":{"name":"eb"},"transform":[{"filter":"datum.p==='B4'"}],"mark":{"type":"rule","strokeWidth":1.2},"encoding":{"x":{"field":"x","type":"quantitative"},"y":{"field":"lo","type":"quantitative"},"y2":{"field":"hi"},"color":{"field":"s","type":"nominal","scale":{"domain":["control","AcAc"],"range":["#3c2882","#a0a0a0"]},"legend":null}}},
{"data":{"name":"eb"},"transform":[{"filter":"datum.p==='B4'"}],"mark":{"type":"tick","orient":"horizontal","size":5,"thickness":1.2},"encoding":{"x":{"field":"x","type":"quantitative"},"y":{"field":"lo","type":"quantitative"},"color":{"field":"s","type":"nominal","scale":{"domain":["control","AcAc"],"range":["#3c2882","#a0a0a0"]},"legend":null}}},
{"data":{"name":"eb"},"transform":[{"filter":"datum.p==='B4'"}],"mark":{"type":"tick","orient":"horizontal","size":5,"thickness":1.2},"encoding":{"x":{"field":"x","type":"quantitative"},"y":{"field":"hi","type":"quantitative"},"color":{"field":"s","type":"nominal","scale":{"domain":["control","AcAc"],"range":["#3c2882","#a0a0a0"]},"legend":null}}},
{"data":{"name":"sig"},"transform":[{"filter":"datum.p==='B4'"}],"mark":{"type":"text","font":"DejaVu Sans","fontSize":16,"align":"right","baseline":"alphabetic","color":"#222"},"encoding":{"x":{"field":"x","type":"quantitative"},"y":{"field":"y","type":"quantitative"},"text":{"field":"t"}}}
]},
{"width":162,"height":151,"layer":[
{"data":{"name":"pts"},"transform":[{"filter":"datum.p==='C1'"}],"mark":{"type":"circle","size":55,"opacity":1,"strokeWidth":0},"encoding":{
"x":{"field":"x","type":"quantitative","scale":{"domain":[-15,-12.5],"nice":false,"zero":false},"axis":{"values":[-15,-14.5,-14,-13.5,-13],"tickCount":20,"labelExpr":"datum.value % 1 === 0 ? format(datum.value, 'd') : ''","title":"C","titleX":-67,"titleY":-155,"titleFont":"Liberation Sans","titleFontWeight":"bold","titleFontSize":17,"titleColor":"#000","titleAngle":0,"titleAlign":"left","titleBaseline":"alphabetic"}},
"y":{"field":"y","type":"quantitative","scale":{"domain":[0,100],"nice":false},"axis":{"values":[0,20,40,60,80,100],"tickCount":20,"title":["NAP(P)H/NAD(P)⁺","(% reduced)"],"titleX":-75,"titleY":75.5,"titleAlign":"center","titleBaseline":"top","titleAngle":-90,"titleLineHeight":17}},
"fill":{"field":"s","type":"nominal","scale":{"domain":["control","+3OHB"],"range":["#3c2882","#e8392e"]},"legend":null}}},
{"data":{"name":"eb"},"transform":[{"filter":"datum.p==='C1'"}],"mark":{"type":"rule","strokeWidth":1.2},"encoding":{"x":{"field":"x","type":"quantitative"},"y":{"field":"lo","type":"quantitative"},"y2":{"field":"hi"},"color":{"field":"s","type":"nominal","scale":{"domain":["control","+3OHB"],"range":["#3c2882","#e8392e"]},"legend":null}}},
{"data":{"name":"sig"},"transform":[{"filter":"datum.p==='C1'"}],"mark":{"type":"text","font":"DejaVu Sans","fontSize":16,"align":"right","baseline":"alphabetic","color":"#222"},"encoding":{"x":{"field":"x","type":"quantitative"},"y":{"field":"y","type":"quantitative"},"text":{"field":"t"}}}
]},
{"width":162,"height":151,"layer":[
{"data":{"name":"pts"},"transform":[{"filter":"datum.p==='C2'"}],"mark":{"type":"circle","size":55,"opacity":1,"strokeWidth":0},"encoding":{
"x":{"field":"x","type":"quantitative","scale":{"domain":[-15,-12.5],"nice":false,"zero":false},"axis":{"values":[-15,-14.5,-14,-13.5,-13],"tickCount":20,"labelExpr":"datum.value % 1 === 0 ? format(datum.value, 'd') : ''","title":"ΔG","titleX":142.8,"titleY":39,"titleAlign":"center","titleBaseline":"middle","titleAngle":0,"titleFont":"Liberation Sans","titleFontSize":14}},
"y":{"field":"y","type":"quantitative","scale":{"domain":[0,100],"nice":false},"axis":{"values":[0,20,40,60,80,100],"tickCount":20,"labels":false,"title":"ATP","titleAngle":0,"titleX":153,"titleY":198,"titleAlign":"left","titleBaseline":"middle","titleFont":"Liberation Sans","titleFontSize":7.5}},
"fill":{"field":"s","type":"nominal","scale":{"domain":["control","+3OHB"],"range":["#3c2882","#e8392e"]},"legend":null}}}
]},
{"width":162,"height":151,"layer":[
{"data":{"name":"pts"},"transform":[{"filter":"datum.p==='C3'"}],"mark":{"type":"circle","size":55,"opacity":1,"strokeWidth":0},"encoding":{
"x":{"field":"x","type":"quantitative","scale":{"domain":[-15,-12.5],"nice":false,"zero":false},"axis":{"values":[-15,-14.5,-14,-13.5,-13],"tickCount":20,"labelExpr":"datum.value % 1 === 0 ? format(datum.value, 'd') : ''","title":"(kCals/mol)","titleX":-3,"titleY":40,"titleAlign":"left","titleBaseline":"middle","titleAngle":0,"titleFont":"Liberation Sans","titleFontSize":14}},
"y":{"field":"y","type":"quantitative","scale":{"domain":[0,100],"nice":false},"axis":{"values":[0,20,40,60,80,100],"tickCount":20,"labels":false,"title":null}},
"fill":{"field":"s","type":"nominal","scale":{"domain":["control","R-3OHB","S-3OHB"],"range":["#3c2882","#e8392e","#5b9b5b"]},"legend":null}}},
{"data":{"name":"sig"},"transform":[{"filter":"datum.p==='C3'"}],"mark":{"type":"text","font":"DejaVu Sans","fontSize":16,"align":"right","baseline":"alphabetic","color":"#222"},"encoding":{"x":{"field":"x","type":"quantitative"},"y":{"field":"y","type":"quantitative"},"text":{"field":"t"}}}
]},
{"width":162,"height":151,"layer":[
{"data":{"name":"pts"},"transform":[{"filter":"datum.p==='C4'"}],"mark":{"type":"circle","size":55,"opacity":1,"strokeWidth":0},"encoding":{
"x":{"field":"x","type":"quantitative","scale":{"domain":[-15,-12.5],"nice":false,"zero":false},"axis":{"values":[-15,-14.5,-14,-13.5,-13],"tickCount":20,"labelExpr":"datum.value % 1 === 0 ? format(datum.value, 'd') : ''","title":null}},
"y":{"field":"y","type":"quantitative","scale":{"domain":[0,100],"nice":false},"axis":{"values":[0,20,40,60,80,100],"tickCount":20,"labels":false,"title":null}},
"fill":{"field":"s","type":"nominal","scale":{"domain":["control","AcAc"],"range":["#3c2882","#a0a0a0"]},"legend":null}}},
{"data":{"name":"eb"},"transform":[{"filter":"datum.p==='C4'"}],"mark":{"type":"rule","strokeWidth":1.2},"encoding":{"x":{"field":"x","type":"quantitative"},"y":{"field":"lo","type":"quantitative"},"y2":{"field":"hi"},"color":{"field":"s","type":"nominal","scale":{"domain":["control","AcAc"],"range":["#3c2882","#a0a0a0"]},"legend":null}}},
{"data":{"name":"eb"},"transform":[{"filter":"datum.p==='C4'"}],"mark":{"type":"tick","orient":"horizontal","size":5,"thickness":1.2},"encoding":{"x":{"field":"x","type":"quantitative"},"y":{"field":"lo","type":"quantitative"},"color":{"field":"s","type":"nominal","scale":{"domain":["control","AcAc"],"range":["#3c2882","#a0a0a0"]},"legend":null}}},
{"data":{"name":"eb"},"transform":[{"filter":"datum.p==='C4'"}],"mark":{"type":"tick","orient":"horizontal","size":5,"thickness":1.2},"encoding":{"x":{"field":"x","type":"quantitative"},"y":{"field":"hi","type":"quantitative"},"color":{"field":"s","type":"nominal","scale":{"domain":["control","AcAc"],"range":["#3c2882","#a0a0a0"]},"legend":null}}},
{"data":{"name":"sig"},"transform":[{"filter":"datum.p==='C4'"}],"mark":{"type":"text","font":"DejaVu Sans","fontSize":16,"align":"right","baseline":"alphabetic","color":"#222"},"encoding":{"x":{"field":"x","type":"quantitative"},"y":{"field":"y","type":"quantitative"},"text":{"field":"t"}}}
]},
{"width":96,"height":36,"view":{"stroke":null},"layer":[
{"data":{"name":"tri"},"mark":{"type":"area","color":"#808080","opacity":1},"encoding":{"x":{"field":"u","type":"quantitative","scale":{"domain":[0,1],"nice":false},"axis":null},"y":{"field":"v","type":"quantitative","scale":{"domain":[0,1],"nice":false,"zero":false},"axis":null},"y2":{"field":"v0"}}},
{"data":{"name":"trilab"},"mark":{"type":"text","font":"Liberation Sans","fontSize":15,"align":"left","baseline":"alphabetic","color":"#f4f4f4"},"encoding":{"x":{"field":"u","type":"quantitative"},"y":{"field":"v","type":"quantitative"},"text":{"field":"t"}}}
]},
{"width":162,"height":36,"view":{"stroke":null},"data":{"values":[]},"mark":{"type":"point","opacity":0},"encoding":{}},
{"width":162,"height":36,"view":{"stroke":null},"data":{"values":[]},"mark":{"type":"point","opacity":0},"encoding":{}},
{"width":162,"height":36,"view":{"stroke":null},"data":{"values":[]},"mark":{"type":"point","opacity":0},"encoding":{}},
{"width":162,"height":161,"layer":[
{"data":{"name":"pts"},"transform":[{"filter":"datum.p==='D1'"}],"mark":{"type":"circle","size":55,"opacity":1,"strokeWidth":0},"encoding":{
"x":{"field":"x","type":"quantitative","scale":{"domain":[125,145],"nice":false,"zero":false},"axis":{"values":[125,130,135,140],"tickCount":20,"title":"D","titleX":-67,"titleY":-161,"titleFont":"Liberation Sans","titleFontWeight":"bold","titleFontSize":17,"titleColor":"#000","titleAngle":0,"titleAlign":"left","titleBaseline":"alphabetic"}},
"y":{"field":"y","type":"quantitative","scale":{"domain":[0,10000],"nice":false},"axis":{"values":[0,2000,4000,6000,8000,10000],"tickCount":20,"format":"d","title":"JO₂ (pmoles/s/mg)","titleX":-54,"titleY":80.5,"titleAlign":"center","titleBaseline":"middle","titleAngle":-90}},
"fill":{"field":"s","type":"nominal","scale":{"domain":["control","+3OHB"],"range":["#3c2882","#e8392e"]},"legend":{"title":null,"orient":"top-right","symbolType":"M-1,0A1,1,0,1,0,1,0A1,1,0,1,0,-1,0ZM0,-1.9L0,1.9M-0.6,-1.9L0.6,-1.9M-0.6,1.9L0.6,1.9M-1.9,0L1.9,0M-1.9,-0.6L-1.9,0.6M1.9,-0.6L1.9,0.6"}},
"stroke":{"field":"s","type":"nominal","scale":{"domain":["control","+3OHB"],"range":["#3c2882","#e8392e"]},"legend":{"title":null,"orient":"top-right","symbolType":"M-1,0A1,1,0,1,0,1,0A1,1,0,1,0,-1,0ZM0,-1.9L0,1.9M-0.6,-1.9L0.6,-1.9M-0.6,1.9L0.6,1.9M-1.9,0L1.9,0M-1.9,-0.6L-1.9,0.6M1.9,-0.6L1.9,0.6"}}}},
{"data":{"name":"ebh"},"transform":[{"filter":"datum.p==='D1'"}],"mark":{"type":"rule","strokeWidth":1.2},"encoding":{"y":{"field":"y","type":"quantitative"},"x":{"field":"lo","type":"quantitative"},"x2":{"field":"hi"},"color":{"field":"s","type":"nominal","scale":{"domain":["control","+3OHB"],"range":["#3c2882","#e8392e"]},"legend":null}}},
{"data":{"name":"ebh"},"transform":[{"filter":"datum.p==='D1'"}],"mark":{"type":"tick","orient":"vertical","size":5,"thickness":1.2},"encoding":{"y":{"field":"y","type":"quantitative"},"x":{"field":"lo","type":"quantitative"},"color":{"field":"s","type":"nominal","scale":{"domain":["control","+3OHB"],"range":["#3c2882","#e8392e"]},"legend":null}}},
{"data":{"name":"ebh"},"transform":[{"filter":"datum.p==='D1'"}],"mark":{"type":"tick","orient":"vertical","size":5,"thickness":1.2},"encoding":{"y":{"field":"y","type":"quantitative"},"x":{"field":"hi","type":"quantitative"},"color":{"field":"s","type":"nominal","scale":{"domain":["control","+3OHB"],"range":["#3c2882","#e8392e"]},"legend":null}}}
]},
{"width":162,"height":161,"layer":[
{"data":{"name":"pts"},"transform":[{"filter":"datum.p==='D2'"}],"mark":{"type":"circle","size":55,"opacity":1,"strokeWidth":0},"encoding":{
"x":{"field":"x","type":"quantitative","scale":{"domain":[125,145],"nice":false,"zero":false},"axis":{"values":[125,130,135,140],"tickCount":20,"title":null}},
"y":{"field":"y","type":"quantitative","scale":{"domain":[0,10000],"nice":false},"axis":{"values":[0,2000,4000,6000,8000,10000],"tickCount":20,"labels":false,"title":null}},
"fill":{"field":"s","type":"nominal","scale":{"domain":["control","+3OHB"],"range":["#3c2882","#e8392e"]},"legend":{"title":null,"orient":"top-right","symbolType":"M-1,0A1,1,0,1,0,1,0A1,1,0,1,0,-1,0ZM0,-1.9L0,1.9M-0.6,-1.9L0.6,-1.9M-0.6,1.9L0.6,1.9M-1.9,0L1.9,0M-1.9,-0.6L-1.9,0.6M1.9,-0.6L1.9,0.6"}},
"stroke":{"field":"s","type":"nominal","scale":{"domain":["control","+3OHB"],"range":["#3c2882","#e8392e"]},"legend":{"title":null,"orient":"top-right","symbolType":"M-1,0A1,1,0,1,0,1,0A1,1,0,1,0,-1,0ZM0,-1.9L0,1.9M-0.6,-1.9L0.6,-1.9M-0.6,1.9L0.6,1.9M-1.9,0L1.9,0M-1.9,-0.6L-1.9,0.6M1.9,-0.6L1.9,0.6"}}}},
{"data":{"name":"ebh"},"transform":[{"filter":"datum.p==='D2'"}],"mark":{"type":"rule","strokeWidth":1.2},"encoding":{"y":{"field":"y","type":"quantitative"},"x":{"field":"lo","type":"quantitative"},"x2":{"field":"hi"},"color":{"field":"s","type":"nominal","scale":{"domain":["control","+3OHB"],"range":["#3c2882","#e8392e"]},"legend":null}}},
{"data":{"name":"ebh"},"transform":[{"filter":"datum.p==='D2'"}],"mark":{"type":"tick","orient":"vertical","size":5,"thickness":1.2},"encoding":{"y":{"field":"y","type":"quantitative"},"x":{"field":"lo","type":"quantitative"},"color":{"field":"s","type":"nominal","scale":{"domain":["control","+3OHB"],"range":["#3c2882","#e8392e"]},"legend":null}}},
{"data":{"name":"ebh"},"transform":[{"filter":"datum.p==='D2'"}],"mark":{"type":"tick","orient":"vertical","size":5,"thickness":1.2},"encoding":{"y":{"field":"y","type":"quantitative"},"x":{"field":"hi","type":"quantitative"},"color":{"field":"s","type":"nominal","scale":{"domain":["control","+3OHB"],"range":["#3c2882","#e8392e"]},"legend":null}}}
]},
{"width":162,"height":161,"layer":[
{"data":{"name":"pts"},"transform":[{"filter":"datum.p==='D3'"}],"mark":{"type":"circle","size":55,"opacity":1,"strokeWidth":0},"encoding":{
"x":{"field":"x","type":"quantitative","scale":{"domain":[125,145],"nice":false,"zero":false},"axis":{"values":[125,130,135,140],"tickCount":20,"title":"ΔΨ (–mV)","titleX":-5,"titleY":35,"titleAlign":"center","titleBaseline":"middle","titleAngle":0,"titleFont":"DejaVu Sans Condensed","titleFontSize":14.5}},
"y":{"field":"y","type":"quantitative","scale":{"domain":[0,10000],"nice":false},"axis":{"values":[0,2000,4000,6000,8000,10000],"tickCount":20,"labels":false,"title":null}},
"fill":{"field":"s","type":"nominal","scale":{"domain":["control","R-3OHB","S-3OHB"],"range":["#3c2882","#e8392e","#5b9b5b"]},"legend":{"title":null,"orient":"top-right","symbolType":"M-1,0A1,1,0,1,0,1,0A1,1,0,1,0,-1,0ZM0,-1.9L0,1.9M-0.6,-1.9L0.6,-1.9M-0.6,1.9L0.6,1.9"}},
"stroke":{"field":"s","type":"nominal","scale":{"domain":["control","R-3OHB","S-3OHB"],"range":["#3c2882","#e8392e","#5b9b5b"]},"legend":{"title":null,"orient":"top-right","symbolType":"M-1,0A1,1,0,1,0,1,0A1,1,0,1,0,-1,0ZM0,-1.9L0,1.9M-0.6,-1.9L0.6,-1.9M-0.6,1.9L0.6,1.9"}}}}
]},
{"width":162,"height":161,"layer":[
{"data":{"name":"pts"},"transform":[{"filter":"datum.p==='D4'"}],"mark":{"type":"circle","size":55,"opacity":1,"strokeWidth":0},"encoding":{
"x":{"field":"x","type":"quantitative","scale":{"domain":[125,145],"nice":false,"zero":false},"axis":{"values":[125,130,135,140],"tickCount":20,"title":null}},
"y":{"field":"y","type":"quantitative","scale":{"domain":[0,10000],"nice":false},"axis":{"values":[0,2000,4000,6000,8000,10000],"tickCount":20,"labels":false,"title":null}},
"fill":{"field":"s","type":"nominal","scale":{"domain":["control","AcAc"],"range":["#3c2882","#a0a0a0"]},"legend":{"title":null,"orient":"top-right","symbolType":"M-1,0A1,1,0,1,0,1,0A1,1,0,1,0,-1,0ZM0,-1.9L0,1.9M-0.6,-1.9L0.6,-1.9M-0.6,1.9L0.6,1.9"}},
"stroke":{"field":"s","type":"nominal","scale":{"domain":["control","AcAc"],"range":["#3c2882","#a0a0a0"]},"legend":{"title":null,"orient":"top-right","symbolType":"M-1,0A1,1,0,1,0,1,0A1,1,0,1,0,-1,0ZM0,-1.9L0,1.9M-0.6,-1.9L0.6,-1.9M-0.6,1.9L0.6,1.9"}}}}
]}
]
}
